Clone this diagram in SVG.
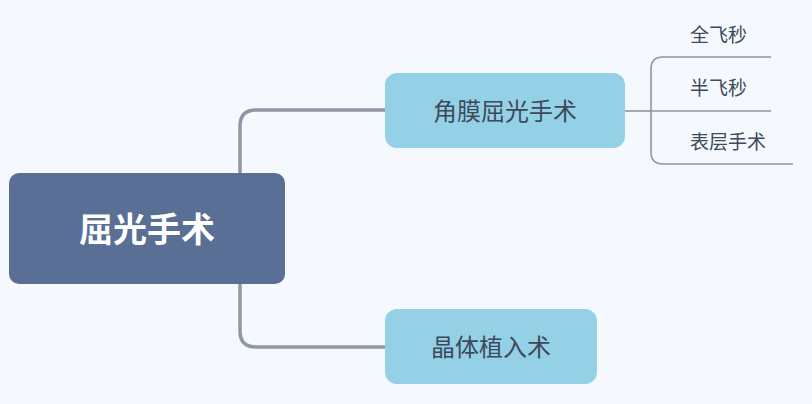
<svg xmlns="http://www.w3.org/2000/svg" width="812" height="404" viewBox="0 0 812 404">
<style>
.t{font-family:"Noto Sans CJK SC","Noto Sans",sans-serif;fill:#3d4a5a}
.c{fill:none;stroke:#8e97a5}
</style>
<rect width="812" height="404" fill="#f5f9fd"/>
<g id="connectors">
<path class="c" stroke-width="3.5" d="M385,110 H256 Q240,110 240,126 V331 Q240,347 256,347 H385"/>
<path class="c" stroke-width="1.6" d="M625,111 H651"/>
<path class="c" stroke-width="1.6" d="M771,57 H663 Q651,57 651,69 V152 Q651,164 663,164 H793"/>
<path class="c" stroke-width="1.6" d="M651,111 H771"/>
</g>
<g id="root">
<rect x="9" y="173" width="276" height="111" rx="10" fill="#5a6f96"/>
<text x="147" y="242" text-anchor="middle" font-family="Noto Sans CJK SC,sans-serif" font-weight="bold" font-size="34" fill="#fff">屈光手术</text>
</g>
<g id="n1">
<rect x="385" y="73" width="240" height="75" rx="12" fill="#94d0e6"/>
<text class="t" x="505" y="120" text-anchor="middle" font-size="24">角膜屈光手术</text>
</g>
<g id="n2">
<rect x="385" y="309" width="212" height="75" rx="12" fill="#94d0e6"/>
<text class="t" x="491" y="356" text-anchor="middle" font-size="24">晶体植入术</text>
</g>
<g id="l1"><text class="t" x="690" y="42" font-size="19">全飞秒</text></g>
<g id="l2"><text class="t" x="690" y="95" font-size="19">半飞秒</text></g>
<g id="l3"><text class="t" x="690" y="149" font-size="19">表层手术</text></g>
</svg>
